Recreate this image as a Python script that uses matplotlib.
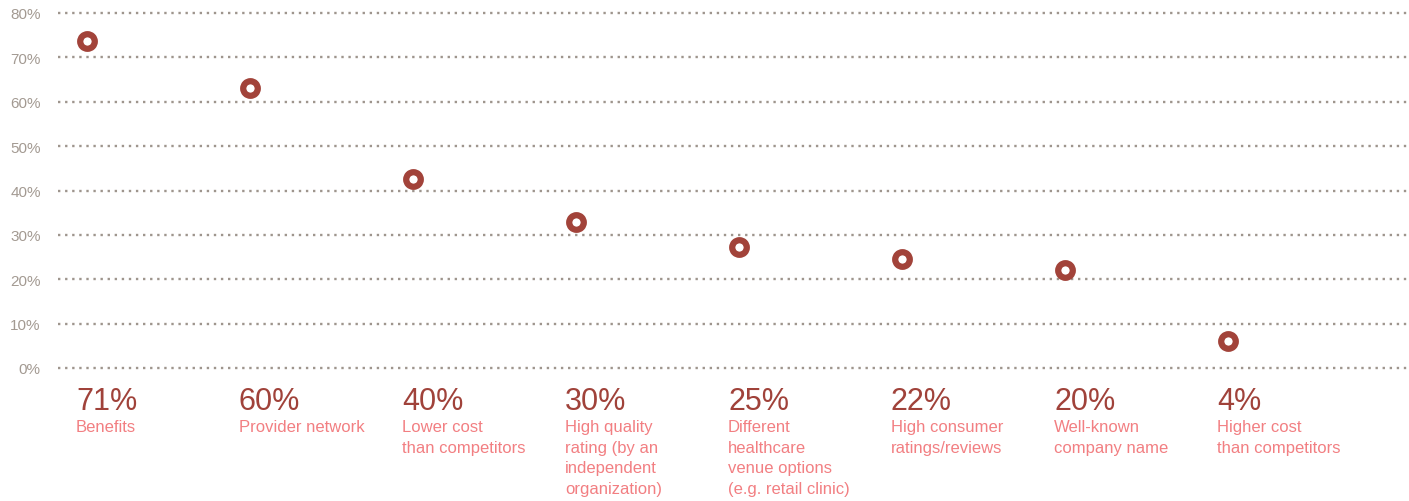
import matplotlib
matplotlib.use("Agg")
import matplotlib.pyplot as plt

# Data
categories = ["Benefits", "Provider network", "Lower cost\nthan competitors",
              "High quality\nrating (by an\nindependent\norganization)",
              "Different\nhealthcare\nvenue options\n(e.g. retail clinic)",
              "High consumer\nratings/reviews", "Well-known\ncompany name",
              "Higher cost\nthan competitors"]
value_labels = ["71%", "60%", "40%", "30%", "25%", "22%", "20%", "4%"]
plotted_values = [73.8, 63.1, 42.6, 32.9, 27.3, 24.5, 22.1, 6.1]
y_ticks = [0, 10, 20, 30, 40, 50, 60, 70, 80]
y_tick_labels = ["0%", "10%", "20%", "30%", "40%", "50%", "60%", "70%", "80%"]

plt.rcParams['font.family'] = ['Liberation Sans', 'DejaVu Sans']

W, H = 1409, 502
fig = plt.figure(figsize=(W / 100, H / 100), dpi=100)
ax = fig.add_axes([58 / W, 1 - 369 / H, 1 - 58 / W, (369 - 14) / H])

x = list(range(len(categories)))
ax.plot(x, plotted_values, linestyle='none', marker='o', markersize=10.5,
        markerfacecolor='white', markeredgecolor='#A2433A', markeredgewidth=4.5,
        zorder=5, clip_on=False)

px_per_unit = (1228 - 87) / 7
ax.set_xlim(-(87 - 58) / px_per_unit, 7 + (1409 - 1228) / px_per_unit)
ax.set_ylim(0, 80)

for t in y_ticks:
    ax.axhline(t, color='#9E958D', linestyle=(0, (1, 2.0)), linewidth=1.7,
               clip_on=False, zorder=1)

ax.set_yticks(y_ticks)
ax.set_yticklabels(y_tick_labels)
ax.tick_params(axis='y', length=0, pad=12.5, labelsize=11, labelcolor='#A39A92')
ax.set_xticks([])
for s in ax.spines.values():
    s.set_visible(False)

for i, (vl, cat) in enumerate(zip(value_labels, categories)):
    ax.annotate(vl, xy=(i, 0), xycoords=('data', 'axes fraction'),
                xytext=(-11 * 0.72, -18 * 0.72), textcoords='offset points',
                ha='left', va='top', fontsize=22, color='#A0423A')
    ax.annotate(cat, xy=(i, 0), xycoords=('data', 'axes fraction'),
                xytext=(-11 * 0.72, -51 * 0.72), textcoords='offset points',
                ha='left', va='top', fontsize=12, color='#F27F82',
                linespacing=1.46)

fig.savefig("out.png", dpi=100)
